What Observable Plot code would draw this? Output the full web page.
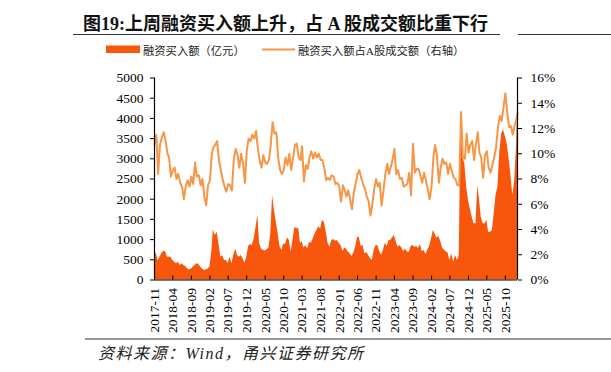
<!DOCTYPE html>
<html><head><meta charset="utf-8">
<script src="https://cdn.jsdelivr.net/npm/d3@7"></script>
<script src="https://cdn.jsdelivr.net/npm/@observablehq/plot@0.6"></script>
<style>
html,body{margin:0;padding:0;background:#fff;}
#wrap{position:relative;width:611px;height:372px;overflow:hidden;background:#fff;}
#wrap svg{position:absolute;left:0;}
</style></head><body><div id="wrap"></div>
<script>
// 半月采样点：2017-11-01 起，每月 1 日与 16 日，最后一点 2026-01-09
const dates = d3.range(197).map(h => new Date(Date.UTC(2017, 10 + Math.floor(h / 2), h % 2 ? 16 : 1)))
  .concat([new Date(Date.UTC(2026, 0, 9))]);

// 融资买入额（亿元）
const amount = [
  690, 650, 480, 565, 650, 715, 690, 565, 565, 565,
  480, 440, 400, 440, 360, 400, 360, 335, 275, 250,
  275, 320, 360, 400, 385, 320, 275, 235, 250, 275,
  320, 700, 1250, 1100, 1185, 895, 565, 605, 480, 480,
  410, 565, 400, 605, 770, 605, 565, 605, 525, 415,
  565, 830, 880, 855, 1020, 1310, 1600, 895, 770, 730,
  715, 745, 795, 1140, 2090, 1720, 1430, 1140, 810, 730,
  895, 880, 1045, 980, 690, 980, 1310, 1265, 1290, 895,
  950, 800, 850, 770, 935, 910, 1020, 1140, 1225, 1320,
  1265, 1470, 1430, 1185, 910, 810, 980, 1000, 960, 980,
  910, 855, 705, 795, 770, 690, 650, 580, 665, 810,
  1060, 1045, 830, 855, 650, 680, 600, 525, 480, 745,
  855, 850, 700, 605, 745, 910, 830, 980, 980, 1045,
  1100, 935, 810, 855, 795, 705, 770, 690, 680, 830,
  855, 810, 830, 780, 880, 705, 730, 630, 745, 830,
  1020, 1225, 1140, 1035, 1080, 960, 795, 745, 690, 670,
  480, 650, 440, 605, 480, 605, 4110, 3020, 2875, 2300,
  1965, 1760, 1555, 1390, 1390, 2340, 2010, 1555, 1390, 1390,
  1470, 1185, 1185, 1225, 1640, 2090, 2300, 3160, 3620, 3715,
  3550, 3370, 2995, 2585, 2090, 2420, 3290, 4280
];

// 融资买入额占A股成交额（%，右轴）
const ratio = [
  10.7, 11.5, 8.4, 10.7, 11.3, 11.7, 11.0, 10.0, 9.7, 8.2,
  8.7, 8.9, 8.0, 8.4, 7.7, 7.4, 6.4, 7.4, 7.9, 7.4,
  8.2, 7.6, 9.3, 8.2, 8.3, 7.5, 8.0, 6.6, 5.9, 7.5,
  7.9, 10.0, 10.5, 10.7, 11.0, 9.5, 8.7, 8.0, 7.4, 7.0,
  7.6, 7.5, 7.1, 9.5, 10.4, 9.9, 8.9, 10.0, 9.2, 7.7,
  10.2, 11.2, 11.0, 11.5, 11.2, 11.8, 10.5, 9.5, 8.9, 9.9,
  9.3, 9.2, 9.5, 10.7, 12.5, 11.6, 11.7, 9.7, 8.7, 8.4,
  8.7, 9.7, 9.1, 10.0, 8.7, 9.6, 10.7, 10.8, 9.7, 9.5,
  10.6, 7.8, 9.1, 8.8, 9.7, 10.2, 9.6, 10.1, 9.7, 10.0,
  9.5, 9.5, 8.8, 7.9, 8.1, 7.9, 8.3, 8.2, 7.6, 7.7,
  7.4, 6.2, 7.5, 7.1, 6.6, 7.1, 6.4, 5.6, 6.9, 7.6,
  8.4, 8.7, 8.1, 7.6, 7.2, 6.6, 6.2, 5.1, 6.0, 7.2,
  8.0, 7.4, 7.7, 5.9, 7.1, 8.4, 9.2, 8.4, 8.9, 9.5,
  10.4, 8.4, 8.7, 8.0, 8.1, 7.4, 7.5, 7.6, 8.5, 6.7,
  10.8, 8.5, 8.8, 8.8, 8.3, 7.7, 8.5, 7.9, 7.2, 6.4,
  7.4, 9.7, 10.7, 9.9, 7.7, 8.9, 9.6, 9.2, 9.3, 8.4,
  9.2, 8.7, 8.1, 8.0, 7.5, 7.5, 13.3, 9.7, 9.6, 11.6,
  10.1, 10.7, 11.0, 9.5, 10.8, 11.7, 10.1, 9.7, 8.1, 9.9,
  10.2, 8.9, 8.5, 9.1, 9.7, 10.5, 12.1, 13.0, 12.6, 13.7,
  14.8, 13.3, 12.1, 12.2, 11.5, 12.2, 12.8, 13.2
];

const xTickLabels = ["2017-11","2018-04","2018-09","2019-02","2019-07","2019-12","2020-05","2020-10",
  "2021-03","2021-08","2022-01","2022-06","2022-11","2023-04","2023-09","2024-02","2024-07",
  "2024-12","2025-05","2025-10"];
const leftTicks = [0,500,1000,1500,2000,2500,3000,3500,4000,4500,5000];
const rightTicks = [0,2,4,6,8,10,12,14,16];

const AREA = "#f8560c";
const LINE = "#f79646";
const LEFT_MAX = 5000, RIGHT_MAX = 16;
const toLeft = p => p * LEFT_MAX / RIGHT_MAX;

const rows = dates.map((d, i) => ({date: d, amount: amount[i], ratio: ratio[i]}));
const tickDates = xTickLabels.map(d3.utcParse("%Y-%m"));
const domainX = [dates[0], dates[dates.length - 1]];

const chart = Plot.plot({
  width: 611, height: 280,
  marginTop: 17.5, marginBottom: 60.5, marginLeft: 154, marginRight: 94,
  style: {fontFamily: "'Liberation Serif','Times New Roman',serif", fontSize: "13.5px", color: "#000", background: "transparent", overflow: "visible"},
  x: {type: "utc", domain: domainX},
  y: {domain: [0, LEFT_MAX]},
  marks: [
    Plot.areaY(rows, {x: "date", y: "amount", fill: AREA}),
    Plot.lineY(rows, {x: "date", y: d => toLeft(d.ratio), stroke: LINE, strokeWidth: 2}),
    Plot.ruleY([0], {stroke: "#000", strokeWidth: 1.2}),
    Plot.ruleX([domainX[0], domainX[1]], {stroke: "#000", strokeWidth: 1.2}),
    Plot.axisY({ticks: leftTicks, tickSize: 4, tickPadding: 7, tickFormat: d => String(d), label: null, stroke: "#000"}),
    Plot.axisY({anchor: "right", ticks: rightTicks.map(toLeft), tickSize: 4, tickPadding: 9,
      tickFormat: d => Math.round(d * RIGHT_MAX / LEFT_MAX) + "%", label: null}),
    Plot.axisX({ticks: tickDates, tickSize: 0, tickPadding: 8, tickRotate: -90, tickFormat: d3.utcFormat("%Y-%m"), label: null}),
    Plot.axisX({ticks: tickDates, tickSize: -4, tickFormat: () => "", label: null})
  ]
});
chart.style.top = "60px";
const wrap = document.getElementById("wrap");
wrap.appendChild(chart);

// 标题、图例、来源
const ov = d3.select(wrap).append("svg").attr("width", 611).attr("height", 372).style("top", "0px");
ov.append("text").attr("x", 285.5).attr("y", 29.5).attr("text-anchor", "middle")
  .style("font-family", "'Liberation Serif','Noto Sans CJK SC',serif").style("font-weight", "bold")
  .style("font-size", "18px").attr("fill", "#111").text("图19:上周融资买入额上升，占 A 股成交额比重下行");
ov.append("line").attr("x1", 73).attr("x2", 500).attr("y1", 34.5).attr("y2", 34.5).attr("stroke", "#333").attr("stroke-width", 1.2);
ov.append("line").attr("x1", 518).attr("x2", 611).attr("y1", 34.5).attr("y2", 34.5).attr("stroke", "#333").attr("stroke-width", 1.2);

ov.append("rect").attr("x", 106).attr("y", 45.5).attr("width", 34).attr("height", 7.5).attr("fill", AREA);
ov.append("text").attr("x", 143).attr("y", 54.5).style("font-family", "'Liberation Serif','Noto Sans CJK SC',serif")
  .style("font-size", "11.3px").attr("fill", "#222").text("融资买入额（亿元）");
ov.append("line").attr("x1", 262).attr("x2", 295).attr("y1", 49.5).attr("y2", 49.5).attr("stroke", LINE).attr("stroke-width", 2);
ov.append("text").attr("x", 298).attr("y", 54.5).style("font-family", "'Liberation Serif','Noto Sans CJK SC',serif")
  .style("font-size", "11.3px").attr("fill", "#222").text("融资买入额占A股成交额（右轴）");

ov.append("line").attr("x1", 85).attr("x2", 611).attr("y1", 339).attr("y2", 339).attr("stroke", "#333").attr("stroke-width", 1);
ov.append("text").attr("x", 98).attr("y", 358.5).style("font-family", "'Liberation Serif','Noto Sans CJK SC',serif")
  .style("font-style", "italic").style("font-size", "16px").style("letter-spacing", "1.5px").attr("fill", "#222")
  .text("资料来源：Wind，甬兴证券研究所");
</script></body></html>
